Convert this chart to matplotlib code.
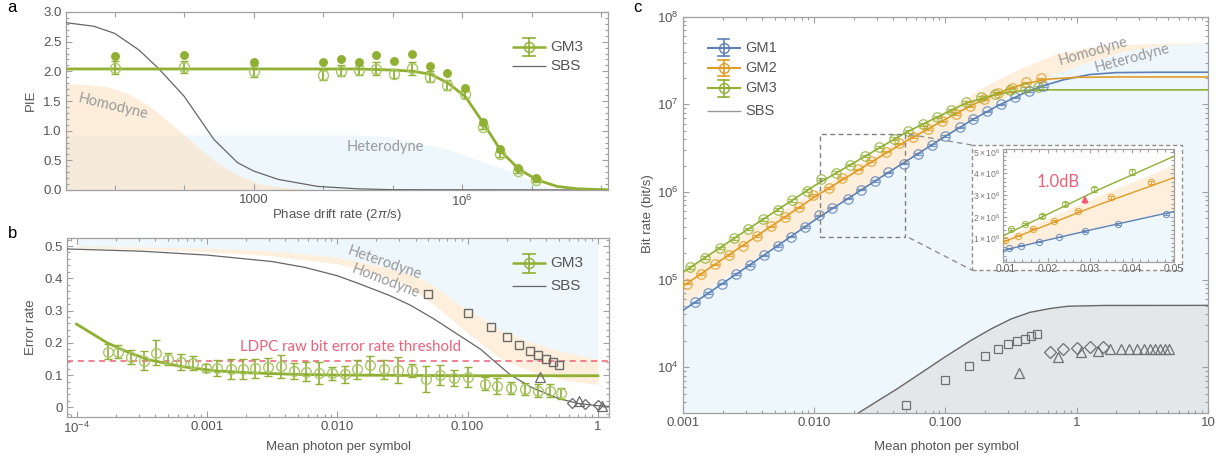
import numpy as np
import matplotlib
matplotlib.use("Agg")
import matplotlib.pyplot as plt
from matplotlib.ticker import FixedLocator, FixedFormatter, LogLocator, MultipleLocator, NullFormatter
from matplotlib.patches import Rectangle
from matplotlib.lines import Line2D

plt.rcParams['font.family'] = ['Liberation Sans', 'DejaVu Sans']
plt.rcParams['mathtext.fontset'] = 'custom'
plt.rcParams['mathtext.rm'] = 'Liberation Sans'
plt.rcParams['mathtext.it'] = 'Liberation Sans:italic'

GREEN = '#8FB032'
GREEN_L = '#A9C665'
BLUE = '#5E81B5'
ORANGE = '#E19C24'
SBS_C = '#666666'
BLUE_F = '#EEF7FB'
ORANGE_F = '#FDEFDC'
GRAY_F = '#E3E7EA'
TXT = '#555555'
LBL = '#9A9A9A'
PINK = '#EE6078'
SPINE = '#A0A0A0'

# ---------------- panel a data ----------------
a_drift = [10, 100, 1000, 1e4, 1.8e4, 3.24e4, 5.83e4, 1.05e5, 1.89e5, 3.4e5, 6.12e5,
           1.1e6, 1.98e6, 3.57e6, 6.43e6, 1.16e7]
a_pie_filled = [2.26, 2.28, 2.16, 2.16, 2.21, 2.16, 2.28, 2.18, 2.30, 2.09, 1.97, 1.72,
                1.15, 0.69, 0.37, 0.20]
a_pie_open = [2.06, 2.08, 2.00, 1.94, 2.01, 2.02, 2.04, 1.96, 2.05, 1.91, 1.77, 1.61,
              1.06, 0.60, 0.32, 0.17]
a_pie_err = [0.11, 0.10, 0.10, 0.09, 0.09, 0.09, 0.11, 0.08, 0.11, 0.09, 0.08, 0.06,
             0.04, 0.04, 0.03, 0.03]
a_fit_logx = [0.3, 4.5, 5.04, 5.3, 5.55, 5.8, 6.05, 6.31, 6.57, 6.82, 7.08, 7.37, 7.66, 8.1]
a_fit_pie = [2.04, 2.04, 2.02, 2.00, 1.95, 1.80, 1.57, 1.12, 0.64, 0.35, 0.17, 0.06, 0.02, 0.004]
a_sbs_logx = [0.3, 0.7, 1.0, 1.35, 1.63, 2.0, 2.2, 2.43, 2.77, 3.0, 3.35, 3.92, 4.5, 5.0, 8.1]
a_sbs_pie = [2.82, 2.76, 2.64, 2.36, 2.05, 1.58, 1.24, 0.85, 0.46, 0.32, 0.18, 0.06, 0.02, 0.005, 0.0]
a_hom_logx = [0.3, 0.6, 0.9, 1.2, 1.5, 1.75, 2.0, 2.2, 2.47, 2.8, 3.1, 3.4, 3.8, 4.2]
a_hom_pie = [1.79, 1.78, 1.74, 1.62, 1.42, 1.18, 0.93, 0.72, 0.46, 0.24, 0.10, 0.045, 0.012, 0.0]
a_het_logx = [0.3, 4.6, 4.9, 5.3, 5.78, 6.26, 6.69, 6.9, 7.1, 7.3, 7.5]
a_het_pie = [0.925, 0.925, 0.90, 0.81, 0.69, 0.49, 0.32, 0.20, 0.09, 0.02, 0.0]

# ---------------- panel b data ----------------
b_gm3_logx = [-3.76, -3.68, -3.58, -3.485, -3.39, -3.295, -3.20, -3.11, -3.01, -2.92, -2.815,
              -2.725, -2.63, -2.53, -2.43, -2.33, -2.24, -2.14, -2.04, -1.94, -1.845, -1.75,
              -1.64, -1.53, -1.43, -1.32, -1.215, -1.105, -0.998, -0.87, -0.775, -0.67,
              -0.56, -0.46, -0.37, -0.28]
b_gm3_err = [0.173, 0.173, 0.155, 0.145, 0.170, 0.150, 0.140, 0.138, 0.122, 0.123, 0.119,
             0.119, 0.121, 0.124, 0.127, 0.113, 0.111, 0.107, 0.105, 0.102, 0.118, 0.130,
             0.118, 0.117, 0.115, 0.089, 0.100, 0.091, 0.094, 0.073, 0.067, 0.060,
             0.057, 0.052, 0.051, 0.043]
b_gm3_bar = [0.022, 0.020, 0.022, 0.030, 0.038, 0.020, 0.025, 0.022, 0.012, 0.025, 0.030,
             0.030, 0.030, 0.028, 0.035, 0.025, 0.030, 0.035, 0.020, 0.025, 0.030, 0.028,
             0.030, 0.040, 0.020, 0.040, 0.030, 0.025, 0.030, 0.020, 0.025, 0.020,
             0.018, 0.020, 0.020, 0.018]
b_fit_logx = [-4.0, -3.765, -3.6, -3.44, -3.19, -2.93, -2.67, -2.3, -2.0, -1.5, -1.0, 0.0]
b_fit_err = [0.258, 0.200, 0.170, 0.147, 0.126, 0.113, 0.107, 0.102, 0.100, 0.099, 0.098, 0.098]
b_sbs_logx = [-4.07, -4.0, -3.5, -3.0, -2.5, -2.25, -2.0, -1.83, -1.6, -1.44, -1.25, -1.06,
              -0.9, -0.8, -0.67, -0.5, -0.3, -0.15, 0.0, 0.085]
b_sbs_err = [0.491, 0.490, 0.484, 0.472, 0.452, 0.434, 0.408, 0.383, 0.347, 0.317, 0.272,
             0.222, 0.180, 0.145, 0.100, 0.060, 0.027, 0.012, 0.005, 0.003]
b_band_logx = [-4.0, -3.5, -3.0, -2.5, -2.0, -1.7, -1.5, -1.34, -1.2, -1.06, -0.9, -0.75,
               -0.5, -0.25, 0.0]
b_het_err = [0.499, 0.497, 0.493, 0.485, 0.465, 0.440, 0.420, 0.395, 0.360, 0.317, 0.280,
             0.240, 0.200, 0.170, 0.150]
b_hom_err = [0.494, 0.490, 0.483, 0.470, 0.445, 0.415, 0.385, 0.343, 0.300, 0.250, 0.200,
             0.152, 0.110, 0.085, 0.070]
b_sq_x = [0.05, 0.10, 0.15, 0.20, 0.25, 0.30, 0.35, 0.40, 0.45, 0.50]
b_sq_err = [0.351, 0.291, 0.248, 0.217, 0.193, 0.175, 0.162, 0.150, 0.142, 0.131]
b_tri_x = [0.36, 0.72, 1.08]
b_tri_err = [0.093, 0.020, 0.004]
b_dia_x = [0.63, 0.79, 1.0]
b_dia_err = [0.014, 0.011, 0.008]
LDPC = 0.145

# ---------------- panel c data ----------------
c_gm1_x = [0.00123, 0.00156, 0.00199, 0.00254, 0.00324, 0.00413, 0.00526, 0.0067, 0.00855,
           0.0109, 0.0137, 0.0180, 0.0228, 0.0288, 0.0367, 0.0482, 0.0615, 0.0785, 0.100,
           0.128, 0.163, 0.208, 0.265, 0.338, 0.43, 0.55]
c_gm1_rate = [5.5e4, 7.0e4, 9.0e4, 1.15e5, 1.47e5, 1.89e5, 2.42e5, 3.09e5, 3.96e5, 5.4e5,
              6.6e5, 8.4e5, 1.06e6, 1.34e6, 1.67e6, 2.11e6, 2.72e6, 3.44e6, 4.33e6, 5.47e6,
              6.76e6, 8.3e6, 1.0e7, 1.2e7, 1.41e7, 1.62e7]
c_gm2_x = [0.00107, 0.00136, 0.00175, 0.00224, 0.00286, 0.00366, 0.00469, 0.0060, 0.00768,
           0.00983, 0.0129, 0.0164, 0.0214, 0.0272, 0.0351, 0.0446, 0.057, 0.073, 0.0935,
           0.12, 0.153, 0.196, 0.251, 0.321, 0.41, 0.53]
c_gm2_rate = [9.0e4, 1.15e5, 1.49e5, 1.91e5, 2.44e5, 3.13e5, 4.04e5, 5.19e5, 6.66e5, 9.2e5,
              1.11e6, 1.44e6, 1.81e6, 2.24e6, 2.89e6, 3.58e6, 4.24e6, 5.2e6, 6.4e6, 7.8e6,
              9.5e6, 1.14e7, 1.35e7, 1.55e7, 1.78e7, 1.98e7]
c_gm3_x = [0.00114, 0.00147, 0.0019, 0.00245, 0.00315, 0.00407, 0.00525, 0.00677, 0.00874,
           0.01127, 0.0146, 0.0186, 0.0242, 0.0311, 0.0402, 0.0519, 0.067, 0.0864, 0.111,
           0.144, 0.185, 0.239, 0.309, 0.40, 0.51]
c_gm3_rate = [1.38e5, 1.78e5, 2.29e5, 2.95e5, 3.78e5, 4.87e5, 6.25e5, 8.0e5, 1.03e6, 1.41e6,
              1.66e6, 2.03e6, 2.58e6, 3.26e6, 4.07e6, 4.9e6, 5.9e6, 7.2e6, 8.5e6, 1.05e7,
              1.2e7, 1.32e7, 1.45e7, 1.52e7, 1.56e7]
c_gm1_line_lx = [-3, -2.5, -2.0, -1.5, -1.3, -1.0, -0.8, -0.6, -0.4, -0.26, -0.1, 0.1, 0.3, 0.6, 1.0]
c_gm1_line_ly = [4.648, 5.158, 5.675, 6.16, 6.35, 6.636, 6.82, 6.985, 7.13, 7.21, 7.28, 7.34,
                 7.362, 7.366, 7.366]
c_gm2_line_lx = [-3, -2.5, -2.0, -1.5, -1.3, -1.0, -0.8, -0.6, -0.4, -0.2, 0.0, 0.3, 1.0]
c_gm2_line_ly = [4.925, 5.435, 5.94, 6.40, 6.58, 6.83, 6.99, 7.13, 7.235, 7.29, 7.308, 7.312, 7.312]
c_gm3_line_lx = [-3, -2.5, -2.0, -1.5, -1.3, -1.0, -0.85, -0.6, -0.4, -0.2, 1.0]
c_gm3_line_ly = [5.084, 5.58, 6.07, 6.505, 6.68, 6.90, 7.01, 7.12, 7.158, 7.165, 7.165]
c_het_lx = [-3, -2.5, -2.0, -1.5, -1.3, -1.0, -0.66, -0.41, -0.15, 0.1, 0.35, 0.6, 0.8, 1.0]
c_het_ly = [4.717, 5.20, 5.69, 6.17, 6.36, 6.66, 6.98, 7.20, 7.36, 7.49, 7.60, 7.67, 7.695, 7.70]
c_hom_lx = [-3, -2.5, -2.0, -1.5, -1.3, -1.0, -0.66, -0.4, -0.15, 0.1, 0.35, 0.6, 1.0]
c_hom_ly = [5.10, 5.56, 6.01, 6.46, 6.64, 6.93, 7.24, 7.43, 7.58, 7.65, 7.68, 7.695, 7.70]
c_sbs_lx = [-1.75, -1.66, -1.5, -1.371, -1.2, -1.0, -0.8, -0.648, -0.5, -0.358, -0.2, -0.07, 0.2, 1.0]
c_sbs_ly = [3.39, 3.48, 3.63, 3.75, 3.92, 4.12, 4.31, 4.44, 4.55, 4.625, 4.67, 4.695, 4.704, 4.705]
c_sq_x = [0.05, 0.10, 0.15, 0.20, 0.25, 0.30, 0.35, 0.40, 0.45, 0.50]
c_sq_rate = [3.7e3, 7.2e3, 1.03e4, 1.35e4, 1.63e4, 1.82e4, 1.98e4, 2.12e4, 2.24e4, 2.37e4]
c_tri_x = [0.36, 0.72, 1.08, 1.44, 1.80, 2.16, 2.52, 2.88, 3.24, 3.60, 3.96, 4.32, 4.68, 5.04]
c_tri_rate = [8.5e3, 1.31e4, 1.49e4, 1.53e4, 1.60e4, 1.60e4, 1.60e4, 1.60e4, 1.60e4, 1.60e4,
              1.60e4, 1.60e4, 1.60e4, 1.60e4]
c_dia_x = [0.63, 0.79, 1.0, 1.26, 1.58]
c_dia_rate = [1.50e4, 1.62e4, 1.66e4, 1.70e4, 1.72e4]

W, H = 1227, 463
fig = plt.figure(figsize=(W / 100, H / 100), dpi=100)


def fax(l, t, r, b):
    return fig.add_axes([l / W, 1 - b / H, (r - l) / W, (b - t) / H])


def style(ax, size=9.5):
    for s in ax.spines.values():
        s.set_color(SPINE)
        s.set_linewidth(0.9)
    ax.tick_params(which='both', direction='in', top=True, right=True, color=SPINE,
                   labelcolor=TXT, labelsize=size, width=0.8)
    ax.tick_params(which='major', length=4.5, pad=3)
    ax.tick_params(which='minor', length=2.5)


def p10(v):
    return np.power(10.0, np.asarray(v, dtype=float))


def leg_entry(ax, x0, x1, y, color, label, err=None, ms=7, lw=1.5, fs=11, caph=0.012):
    ax.plot([x0, x1], [y, y], color=color, lw=lw, transform=ax.transAxes, clip_on=False,
            solid_capstyle='butt')
    if err is not None:
        xm = 0.5 * (x0 + x1)
        ax.plot([xm], [y], 'o', mfc='none', mec=color, ms=ms, mew=1.0,
                transform=ax.transAxes, clip_on=False)
        ax.plot([xm, xm], [y - err, y + err], color=color, lw=1.2, transform=ax.transAxes,
                clip_on=False)
        for yy in (y - err, y + err):
            ax.plot([xm - caph, xm + caph], [yy, yy], color=color, lw=1.2,
                    transform=ax.transAxes, clip_on=False)
    ax.text(x1 + 0.008, y, label, transform=ax.transAxes, color=TXT, fontsize=fs,
            va='center', ha='left')


# =============== panel a ===============
axa = fax(66, 12, 608, 190)
style(axa)
axa.set_xscale('log')
axa.set_xlim(10 ** 0.3, 10 ** 8.1)
axa.set_ylim(0, 3.0)
axa.fill_between(p10(a_het_logx), 0, a_het_pie, color=BLUE_F, lw=0, zorder=1)
axa.fill_between(p10(a_hom_logx), 0, a_hom_pie, color='#FCE4C4', alpha=0.6, lw=0, zorder=1.1)
axa.plot(p10(a_sbs_logx), a_sbs_pie, color=SBS_C, lw=0.9, zorder=3)
axa.plot(p10(a_fit_logx), a_fit_pie, color=GREEN, lw=2.0, zorder=3)
axa.errorbar(a_drift, a_pie_open, yerr=a_pie_err, fmt='o', mfc='none', mec=GREEN_L, ms=7.2,
             mew=1.0, ecolor=GREEN, elinewidth=1.3, capsize=3, capthick=1.3, zorder=4)
axa.plot(a_drift, a_pie_filled, 'o', color=GREEN, ms=5.4, zorder=5)
axa.xaxis.set_major_locator(FixedLocator([1e3, 1e6]))
axa.xaxis.set_major_formatter(FixedFormatter(['1000', '$10^6$']))
axa.xaxis.set_minor_locator(FixedLocator([10.0 ** k for k in range(0, 9)]))
axa.xaxis.set_minor_formatter(NullFormatter())
axa.tick_params(axis='x', which='minor', length=3.5)
axa.yaxis.set_major_locator(FixedLocator([0, 0.5, 1.0, 1.5, 2.0, 2.5, 3.0]))
axa.yaxis.set_major_formatter(FixedFormatter(['0.0', '0.5', '1.0', '1.5', '2.0', '2.5', '3.0']))
axa.yaxis.set_minor_locator(MultipleLocator(0.1))
leg_entry(axa, 0.823, 0.886, 0.805, GREEN, 'GM3', err=0.05, ms=7.2, lw=1.8, caph=0.011)
leg_entry(axa, 0.823, 0.886, 0.698, SBS_C, 'SBS', lw=0.9)

# =============== panel b ===============
axb = fax(67, 238.3, 609, 416.7)
style(axb)
axb.set_xscale('log')
axb.set_xlim(10 ** -4.073, 10 ** 0.085)
axb.set_ylim(-0.029, 0.524)
bx = p10(b_band_logx)
axb.fill_between(bx, b_het_err, 0.524, color=BLUE_F, lw=0, zorder=1)
axb.fill_between(bx, b_hom_err, b_het_err, color=ORANGE_F, lw=0, zorder=1)
axb.axhline(LDPC, color=PINK, ls=(0, (4, 3)), lw=1.1, zorder=2)
axb.plot(p10(b_sbs_logx), b_sbs_err, color=SBS_C, lw=0.9, zorder=3)
axb.plot(p10(b_fit_logx), b_fit_err, color=GREEN, lw=2.0, zorder=3)
axb.errorbar(p10(b_gm3_logx), b_gm3_err, yerr=b_gm3_bar, fmt='o', mfc='none', mec=GREEN_L,
             ms=7.0, mew=1.0, ecolor=GREEN, elinewidth=1.2, capsize=2.6, capthick=1.2, zorder=4)
axb.plot(b_sq_x, b_sq_err, 's', mfc='none', mec='#6a6a6a', ms=5.8, mew=1.0, zorder=5)
axb.plot(b_tri_x, b_tri_err, '^', mfc='none', mec='#6a6a6a', ms=6.5, mew=0.9, zorder=5)
axb.plot(b_dia_x, b_dia_err, 'D', mfc='none', mec='#6a6a6a', ms=5.5, mew=0.9, zorder=5)
axb.xaxis.set_major_locator(FixedLocator([1e-4, 1e-3, 1e-2, 1e-1, 1]))
axb.xaxis.set_major_formatter(FixedFormatter(['$10^{-4}$', '0.001', '0.010', '0.100', '1']))
axb.xaxis.set_minor_locator(LogLocator(base=10, subs=np.arange(2, 10)))
axb.xaxis.set_minor_formatter(NullFormatter())
axb.yaxis.set_major_locator(FixedLocator([0, 0.1, 0.2, 0.3, 0.4, 0.5]))
axb.yaxis.set_major_formatter(FixedFormatter(['0', '0.1', '0.2', '0.3', '0.4', '0.5']))
axb.yaxis.set_minor_locator(MultipleLocator(0.02))
leg_entry(axb, 0.821, 0.884, 0.86, GREEN, 'GM3', err=0.053, ms=7.2, lw=1.8, caph=0.011)
leg_entry(axb, 0.821, 0.884, 0.733, SBS_C, 'SBS', lw=0.9)

# =============== panel c ===============
axc = fax(683, 16.7, 1208, 412.7)
style(axc)
axc.set_xscale('log')
axc.set_yscale('log')
axc.set_xlim(1e-3, 10)
axc.set_ylim(10 ** 3.48, 1e8)
axc.fill_between(p10(c_het_lx), 10 ** 3.0, p10(c_het_ly), color=BLUE_F, lw=0, zorder=1)
axc.fill_between(p10(c_hom_lx), np.interp(c_hom_lx, c_het_lx, p10(c_het_ly)), p10(c_hom_ly),
                 color=ORANGE_F, lw=0, zorder=1)
axc.fill_between(p10(c_sbs_lx), 10 ** 3.0, p10(c_sbs_ly), color=GRAY_F, lw=0, zorder=1.2)
axc.plot(p10(c_sbs_lx), p10(c_sbs_ly), color=SBS_C, lw=1.0, zorder=3)
for lx, ly, col in ((c_gm1_line_lx, c_gm1_line_ly, BLUE), (c_gm2_line_lx, c_gm2_line_ly, ORANGE),
                    (c_gm3_line_lx, c_gm3_line_ly, GREEN)):
    axc.plot(p10(lx), p10(ly), color=col, lw=1.2, zorder=3)
for xs, ys, col, fr in ((c_gm1_x, c_gm1_rate, BLUE, 0.02), (c_gm2_x, c_gm2_rate, ORANGE, 0.02),
                        (c_gm3_x, c_gm3_rate, GREEN, 0.035)):
    ys = np.asarray(ys)
    axc.errorbar(xs, ys, yerr=ys * fr, fmt='o', mfc='none', mec=col, ms=6.8, mew=0.9,
                 ecolor=col, elinewidth=1.0, capsize=3.2, capthick=1.0, alpha=0.8, zorder=4)
axc.plot(c_sq_x, c_sq_rate, 's', mfc='none', mec='#707070', ms=6.3, mew=0.9, zorder=5)
axc.plot(c_tri_x, c_tri_rate, '^', mfc='none', mec='#707070', ms=7.0, mew=0.9, zorder=5)
axc.plot(c_dia_x, c_dia_rate, 'D', mfc='none', mec='#707070', ms=6.0, mew=0.9, zorder=5)
axc.xaxis.set_major_locator(FixedLocator([1e-3, 1e-2, 1e-1, 1, 10]))
axc.xaxis.set_major_formatter(FixedFormatter(['0.001', '0.010', '0.100', '1', '10']))
axc.xaxis.set_minor_locator(LogLocator(base=10, subs=np.arange(2, 10)))
axc.xaxis.set_minor_formatter(NullFormatter())
axc.yaxis.set_major_locator(FixedLocator([1e4, 1e5, 1e6, 1e7, 1e8]))
axc.yaxis.set_major_formatter(FixedFormatter(['$10^4$', '$10^5$', '$10^6$', '$10^7$', '$10^8$']))
axc.yaxis.set_minor_locator(LogLocator(base=10, subs=np.arange(2, 10)))
axc.yaxis.set_minor_formatter(NullFormatter())
axc.add_patch(Rectangle((0.0110, 3.05e5), 0.0494 - 0.0110, 4.6e6 - 3.05e5, fill=False,
                        ec='#808080', lw=1.0, ls=(0, (3.5, 2.5)), zorder=6))
leg_entry(axc, 0.045, 0.110, 0.922, BLUE, 'GM1', err=0.021, ms=7.0, lw=1.5, fs=10.5, caph=0.011)
leg_entry(axc, 0.045, 0.110, 0.870, ORANGE, 'GM2', err=0.021, ms=7.0, lw=1.5, fs=10.5, caph=0.011)
leg_entry(axc, 0.045, 0.110, 0.819, GREEN, 'GM3', err=0.021, ms=7.0, lw=1.5, fs=10.5, caph=0.011)
leg_entry(axc, 0.045, 0.110, 0.763, '#999999', 'SBS', lw=1.0, fs=10.5)

# inset
fig.add_artist(Rectangle((971.7 / W, 1 - 270 / H), 210 / W, 125 / H, transform=fig.transFigure,
                         facecolor='white', edgecolor='#909090', lw=1.0, ls=(0, (3, 2)), zorder=5))
for (x0, y0, x1, y1) in ((909, 134.3, 971.7, 145), (909, 237.7, 971.7, 270)):
    fig.add_artist(Line2D([x0 / W, x1 / W], [1 - y0 / H, 1 - y1 / H], transform=fig.transFigure,
                          color='#909090', lw=1.0, ls=(0, (4, 3)), zorder=5))
axi = fax(1003, 149.3, 1174.3, 261.7)
axi.set_zorder(6)
style(axi, size=7)
axi.tick_params(which='major', length=3, pad=2)
axi.set_xlim(0.00936, 0.0502)
axi.set_ylim(-0.08e6, 5.11e6)
axi.fill_between(p10(c_het_lx), -1e6, p10(c_het_ly), color=BLUE_F, lw=0, zorder=1)
axi.fill_between(p10(c_hom_lx), np.interp(c_hom_lx, c_het_lx, p10(c_het_ly)), p10(c_hom_ly),
                 color=ORANGE_F, lw=0, zorder=1)
for lx, ly, col in ((c_gm1_line_lx, c_gm1_line_ly, BLUE), (c_gm2_line_lx, c_gm2_line_ly, ORANGE),
                    (c_gm3_line_lx, c_gm3_line_ly, GREEN)):
    axi.plot(p10(lx), p10(ly), color=col, lw=1.0, zorder=3)
for xs, ys, col, fr in ((c_gm1_x, c_gm1_rate, BLUE, 0.02), (c_gm2_x, c_gm2_rate, ORANGE, 0.02),
                        (c_gm3_x, c_gm3_rate, GREEN, 0.035)):
    ys = np.asarray(ys)
    axi.errorbar(xs, ys, yerr=ys * fr, fmt='o', mfc='none', mec=col, ms=4.5, mew=0.8,
                 ecolor=col, elinewidth=0.8, capsize=2.0, capthick=0.8, alpha=0.8, zorder=4)
axi.xaxis.set_major_locator(FixedLocator([0.01, 0.02, 0.03, 0.04, 0.05]))
axi.xaxis.set_major_formatter(FixedFormatter(['0.01', '0.02', '0.03', '0.04', '0.05']))
axi.xaxis.set_minor_locator(MultipleLocator(0.002))
axi.yaxis.set_major_locator(FixedLocator([1e6, 2e6, 3e6, 4e6, 5e6]))
axi.yaxis.set_major_formatter(FixedFormatter([r'$1\times10^6$', r'$2\times10^6$', r'$3\times10^6$',
                                              r'$4\times10^6$', r'$5\times10^6$']))
axi.yaxis.set_minor_locator(MultipleLocator(0.2e6))
axi.tick_params(axis='y', labelsize=6.2, labelcolor='#777777')
axi.tick_params(axis='x', labelsize=7.5, labelcolor='#666666')
axi.annotate('', xy=(0.0289, 3.12e6), xytext=(0.0289, 2.5e6),
             arrowprops=dict(arrowstyle='-|>', color=PINK, lw=1.4, mutation_scale=9), zorder=7)

# =============== texts ===============
def ftext(x, y, s, **kw):
    fig.text(x / W, 1 - y / H, s, **kw)


ann = dict(color=LBL, family=['Lato', 'DejaVu Sans'], ha='center', va='center')
ftext(113, 106.7, 'Homodyne', fontsize=10.5, rotation=-13.5, **ann)
ftext(385, 146.7, 'Heterodyne', fontsize=10.5, **ann)
ftext(384, 262.5, 'Heterodyne', fontsize=10.5, rotation=-19, **ann)
ftext(386, 281.7, 'Homodyne', fontsize=10.5, rotation=-21, **ann)
ftext(1093, 51.7, 'Homodyne', fontsize=10.5, rotation=16, **ann)
ftext(1132, 58, 'Heterodyne', fontsize=10.5, rotation=15, **ann)
ftext(350, 346.7, 'LDPC raw bit error rate threshold', fontsize=10.8, color=PINK,
      family=['Lato', 'DejaVu Sans'], ha='center', va='center')
t = fig.text(1058 / W, 1 - 182 / H, '1.0dB', fontsize=12, color=PINK,
             family=['Lato', 'DejaVu Sans'], ha='center', va='center')
t.set_zorder(10)

lab = dict(color=TXT, fontsize=9.5, ha='center', va='center')
ftext(337, 215, r'Phase drift rate (2$\pi$/s)', **lab)
ftext(338, 447, 'Mean photon per symbol', **lab)
ftext(946, 447, 'Mean photon per symbol', **lab)
ftext(31, 100, 'PIE', rotation=90, **lab)
ftext(31, 327, 'Error rate', rotation=90, **lab)
ftext(648, 214, 'Bit rate (bit/s)', rotation=90, **lab)

pl = dict(color='black', fontsize=12, ha='center', va='center')
ftext(12, 7, 'a', **pl)
ftext(13, 234, 'b', **pl)
ftext(637, 8, 'c', **pl)

fig.savefig('out.png', dpi=100)
